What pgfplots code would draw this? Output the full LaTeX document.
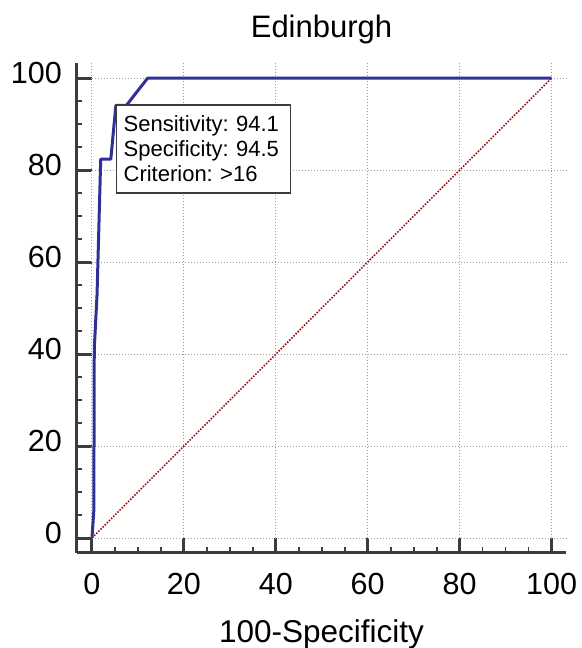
\documentclass[border=0pt]{standalone}
\usepackage{fontspec}
\setmainfont{Liberation Sans}
\usepackage{pgfplots}
\pgfplotsset{compat=1.18}
\definecolor{roc}{RGB}{48,48,150}
\definecolor{diag}{RGB}{150,25,25}
\definecolor{gridc}{RGB}{160,160,160}
\definecolor{spine}{RGB}{60,60,60}
\begin{document}
\frenchspacing
\begin{tikzpicture}
\begin{axis}[
 scale only axis, width=489bp, height=489.6bp,
 xmin=-3.26, xmax=103.15, ymin=-3.17, ymax=103.3,
 axis x line*=bottom, axis y line*=left,
 axis line style={spine, line width=3bp},
 xtick={0,20,...,100}, ytick={0,20,...,100},
 minor tick num=3,
 tick align=inside,
 major tick length=15bp, minor tick length=5.5bp,
 tick style={spine},
 major tick style={line width=3bp},
 minor tick style={line width=1.8bp},
 tick label style={font=\fontsize{30.5bp}{36bp}\selectfont},
 /pgf/number format/assume math mode=true,
 xticklabel style={anchor=base, inner sep=0pt, yshift=-41.4bp},
 yticklabel style={anchor=base east, inner sep=0pt, xshift=-15bp, yshift=-5bp},
 title={Edinburgh},
 title style={at={(axis description cs:0.5,1)}, anchor=base, yshift=20bp, inner sep=0pt, font=\fontsize{31bp}{36bp}\selectfont},
 xlabel={100-Specificity},
 xlabel style={at={(axis description cs:0.5,0)}, anchor=base, yshift=-89.4bp, inner sep=0pt, font=\fontsize{31.5bp}{36bp}\selectfont},
 clip=false,
]
\coordinate (bl) at (rel axis cs:0,0);
\coordinate (tr) at (rel axis cs:1,1);
% grid
\pgfplotsinvokeforeach{0,20,40,60,80,100}{
 \addplot[gridc, line width=1bp, dash pattern=on 1.5bp off 1.5bp, forget plot] coordinates {(#1,0) (#1,103.3)};
 \addplot[gridc, line width=1bp, dash pattern=on 1.5bp off 1.5bp, forget plot] coordinates {(0,#1) (103.15,#1)};
}
% diagonal
\addplot[diag, line width=1.6bp, dash pattern=on 1.6bp off 1.4bp] coordinates {(0,0) (100,100)};
% ROC curve
\addplot[roc, line width=3bp, line join=round] coordinates {
 (0,0) (0.4,5.9) (0.5,41.2) (1.1,52.9) (1.9,82.4) (4.1,82.4) (5.2,94.1) (7.5,94.1) (12.1,100) (100,100)
};
\node[draw=spine, line width=1.5bp, fill=white, anchor=north west, align=left, text width=160bp, inner xsep=7bp, inner ysep=11bp, font=\fontsize{22bp}{25bp}\selectfont\frenchspacing] at (axis cs:5.2,94.35) {Sensitivity: 94.1\\Specificity: 94.5\\Criterion: >16};
\end{axis}
\pgfresetboundingbox
\path ([xshift=-77bp,yshift=-95.4bp]bl) rectangle ([xshift=16bp,yshift=63bp]tr);
\end{tikzpicture}
\end{document}
